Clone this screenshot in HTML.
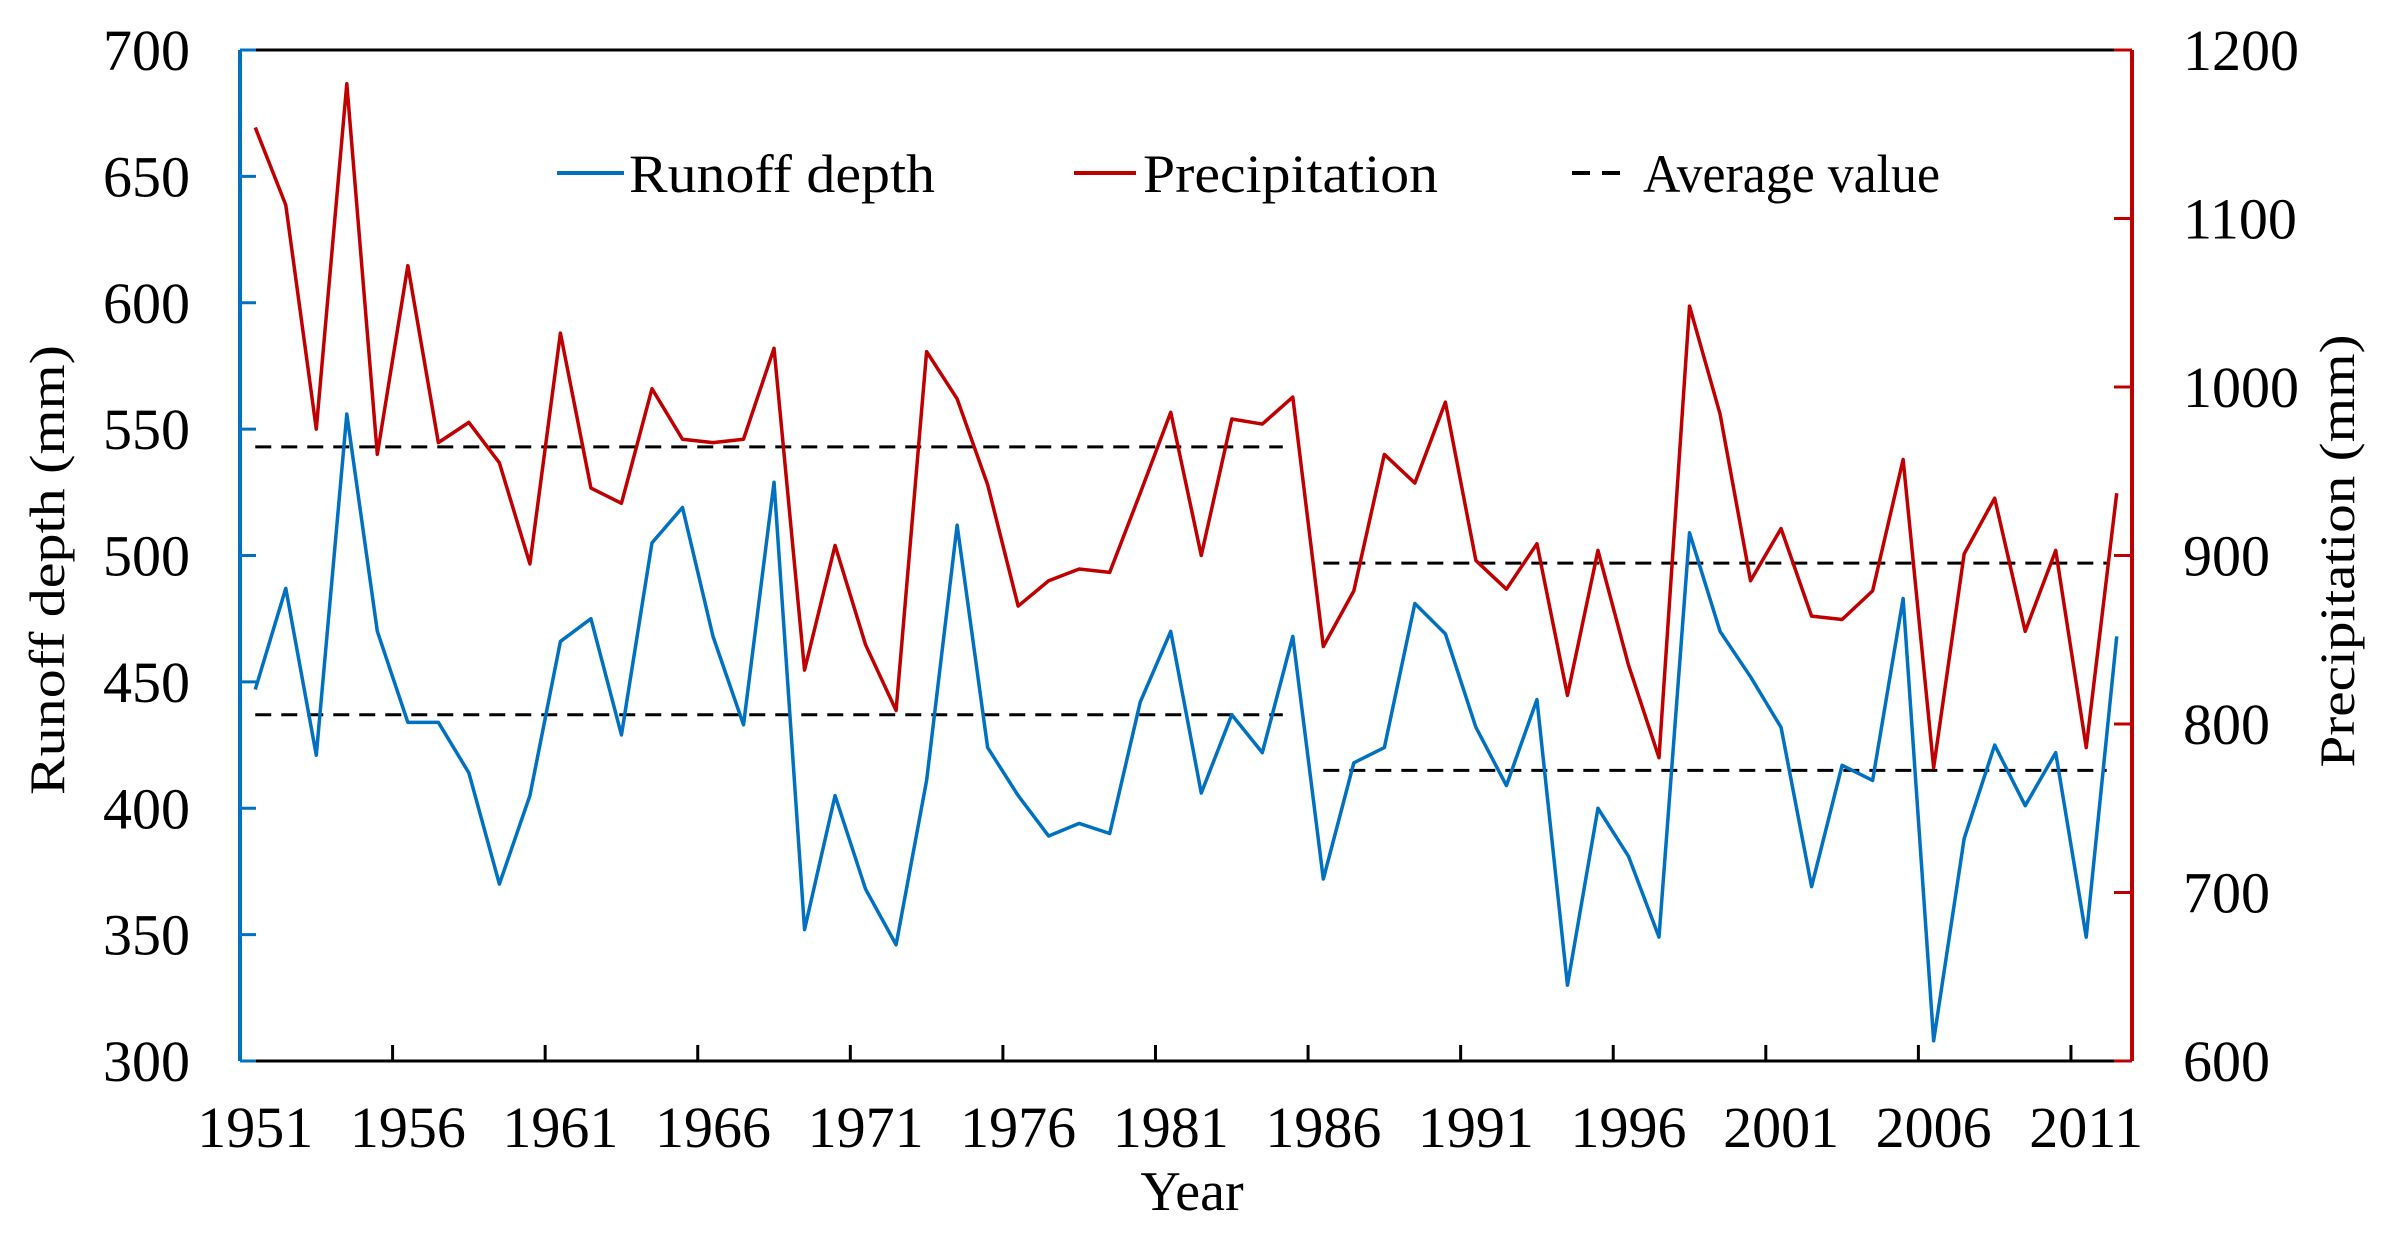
<!DOCTYPE html>
<html><head><meta charset="utf-8"><style>
html,body{margin:0;padding:0;background:#fff;}
svg text{font-family:"Liberation Serif",serif;fill:#000;}
</style></head><body>
<svg id="chart" width="2387" height="1235" xmlns="http://www.w3.org/2000/svg">
<g id="plot"></g>
</svg>
<script>
const years = [];
for (let y = 1951; y <= 2012; y++) years.push(y);
const runoff = [447,487,421,556,470,434,434,414,370,405,466,475,429,505,519,468,433,529,352,405,368,346,411,512,424,405,389,394,390,442,470,406,437,422,468,372,418,424,481,469,432,409,443,330,400,381,349,509,470,452,432,369,417,411,483,308,388,425,401,422,349,468];
const precip = [1154,1108,975,1180,960,1072,967,979,955,895,1032,940,931,999,969,967,969,1023,832,906,847,808,1021,993,942,870,885,892,890,937,985,900,981,978,994,846,879,960,943,991,897,880,907,817,903,835,780,1048,984,885,916,864,862,879,957,774,901,934,855,903,786,937];
const leftTicks = [300,350,400,450,500,550,600,650,700];
const rightTicks = [600,700,800,900,1000,1100,1200];
const xLabels = [1951,1956,1961,1966,1971,1976,1981,1986,1991,1996,2001,2006,2011];
const avgRunoff = [{from:1951,to:1985,value:437},{from:1986,to:2012,value:415}];
const avgPrecip = [{from:1951,to:1985,value:964.5},{from:1986,to:2012,value:895.5}];

const L=240,R=2132,T=50,B=1061;
const step=(R-L)/years.length;
const xs=y=>L+(y-1951+0.5)*step;
const yl=v=>B-(v-300)/400*(B-T);
const yr=v=>B-(v-600)/600*(B-T);
const NS="http://www.w3.org/2000/svg";
const g=document.getElementById('plot');
function mk(tag,attrs,parent){const e=document.createElementNS(NS,tag);for(const k in attrs)e.setAttribute(k,attrs[k]);(parent||g).appendChild(e);return e;}

// axes
let e;
e=mk('line',{x1:L,y1:T,x2:R,y2:T,stroke:'#000','stroke-width':3});


e=mk('line',{x1:L,y1:B,x2:R,y2:B,stroke:'#000','stroke-width':3});


e=mk('line',{x1:L,y1:T,x2:L,y2:B,stroke:'#0070c0','stroke-width':4});


e=mk('line',{x1:R,y1:T,x2:R,y2:B,stroke:'#c00000','stroke-width':4});



leftTicks.forEach(v=>{
  const t=mk('line',{x1:L,y1:yl(v),x2:L+16,y2:yl(v),stroke:'#0070c0','stroke-width':3});
  
  
  const tx=mk('text',{x:190,y:yl(v)+20,'font-size':58,'text-anchor':'end'});
  
  
  tx.textContent=v;
});
rightTicks.forEach(v=>{
  const t=mk('line',{x1:R-18,y1:yr(v),x2:R,y2:yr(v),stroke:'#c00000','stroke-width':3});
  
  
  const tx=mk('text',{x:2183,y:yr(v)+20,'font-size':58});
  
  
  tx.textContent=v;
});
xLabels.forEach(v=>{
  if(v>1951){
    const tk=mk('line',{x1:xs(v)-step/2,y1:B,x2:xs(v)-step/2,y2:B-16,stroke:'#000','stroke-width':3});
    
    
  }
  const tx=mk('text',{x:xs(v),y:1147,'font-size':58,'text-anchor':'middle'});
  
  
  tx.textContent=v;
});

// averages
avgRunoff.concat(avgPrecip.map(a=>({from:a.from,to:a.to,value:a.value,right:true}))).forEach(a=>{
  const y=a.right?yr(a.value):yl(a.value);
  const ln=mk('line',{x1:xs(a.from),y1:y,x2:xs(a.to)-10,y2:y,stroke:'#000','stroke-width':3,'stroke-dasharray':'16,10'});
  
  
});

// series
const pr=mk('polyline',{points:precip.map((v,i)=>xs(years[i])+','+yr(v)).join(' '),fill:'none',stroke:'#c00000','stroke-width':3.5,'stroke-linejoin':'round'});


const ro=mk('polyline',{points:runoff.map((v,i)=>xs(years[i])+','+yl(v)).join(' '),fill:'none',stroke:'#0070c0','stroke-width':3.5,'stroke-linejoin':'round'});



// legend
function leg(x1,x2,color,dash,tx,txt,w,name){
  const gg=mk('g',{});
  
  
  const a={x1:x1,y1:173,x2:x2,y2:173,stroke:color,'stroke-width':4};
  if(dash)a['stroke-dasharray']='18,12';
  mk('line',a,gg);
  const t=mk('text',{x:tx,y:192,'font-size':54,textLength:w,lengthAdjust:'spacingAndGlyphs'},gg);
  t.textContent=txt;
}
leg(557,624,'#0070c0',false,629,'Runoff depth',306,'legend-runoff');
leg(1074,1136,'#c00000',false,1143,'Precipitation',295,'legend-precipitation');
leg(1572,1632,'#000',true,1643,'Average value',297,'legend-average');

// axis titles
let at=mk('text',{x:0,y:0,'font-size':50,'text-anchor':'middle',transform:'translate(64,570) rotate(-90)',textLength:450,lengthAdjust:'spacingAndGlyphs'});


at.textContent='Runoff depth (mm)';
at=mk('text',{x:0,y:0,'font-size':50,'text-anchor':'middle',transform:'translate(2354,551) rotate(-90)',textLength:433,lengthAdjust:'spacingAndGlyphs'});


at.textContent='Precipitation (mm)';
at=mk('text',{x:1192,y:1210,'font-size':56,'text-anchor':'middle'});


at.textContent='Year';
</script>
</body></html>
